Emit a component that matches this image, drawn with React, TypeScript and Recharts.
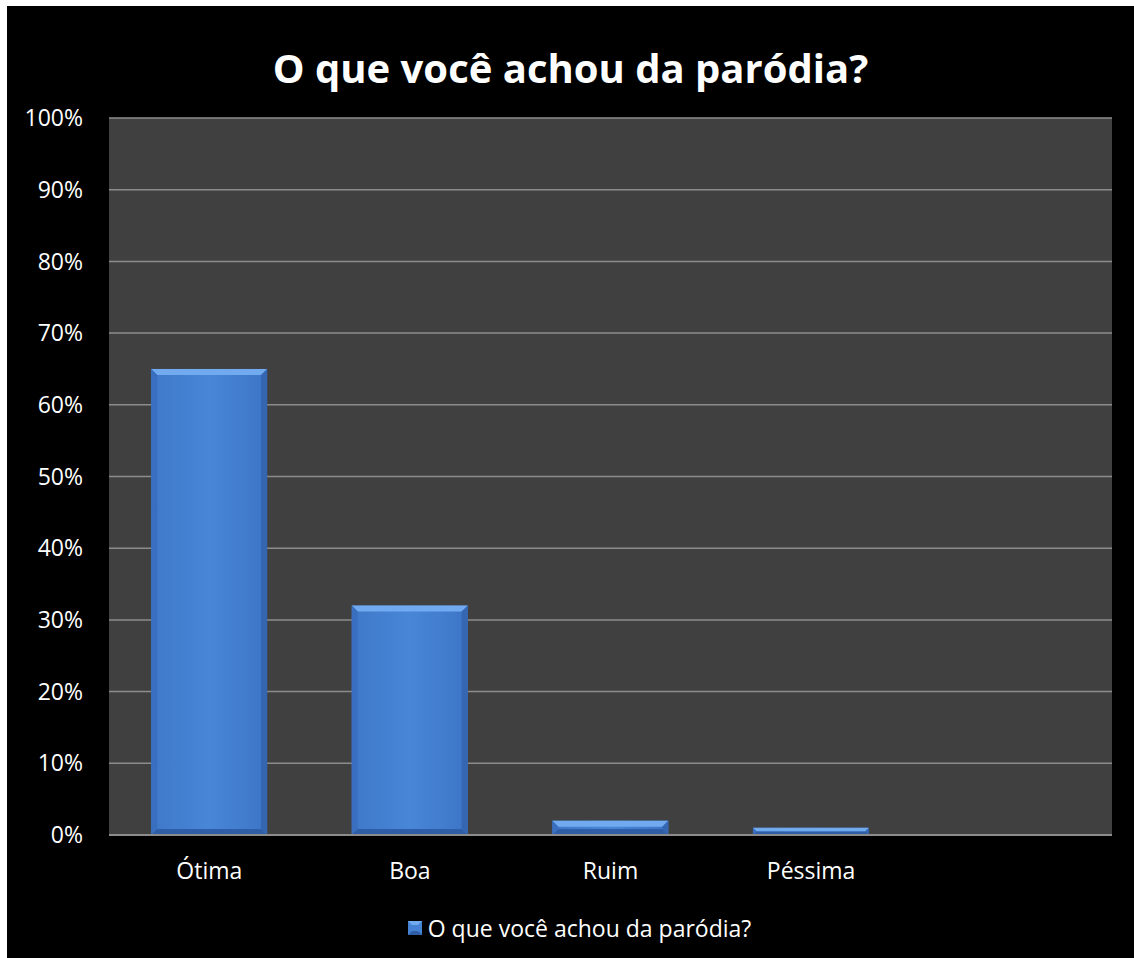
import { BarChart, Bar, XAxis, YAxis, CartesianGrid, Legend } from "recharts";

// survey answers (share of respondents)
const CATEGORIES = ["Ótima", "Boa", "Ruim", "Péssima", ""];
const VALUES: (number | null)[] = [0.65, 0.32, 0.02, 0.01, null];
const Y_TICKS = [0, 0.1, 0.2, 0.3, 0.4, 0.5, 0.6, 0.7, 0.8, 0.9, 1];
const SERIES_NAME = "O que você achou da paródia?";

const data = CATEGORIES.map((c, i) => ({ name: c, value: VALUES[i] }));

const FONT = "'Open Sans', sans-serif";

function BevelBar(props: any) {
  const { x, y, width, height } = props;
  if (!height || height <= 0) return null;
  const b = Math.min(6, height / 2, width / 2);
  const r = x + width;
  const btm = y + height;
  return (
    <g>
      <rect x={x} y={y} width={width} height={height} fill="url(#faceGrad)" />
      <polygon points={`${x},${y} ${r},${y} ${r - b},${y + b} ${x + b},${y + b}`} fill="#72aaf0" />
      <polygon points={`${x},${y} ${x + b},${y + b} ${x + b},${btm - b} ${x},${btm}`} fill="#3a6fc0" />
      <polygon points={`${r},${y} ${r},${btm} ${r - b},${btm - b} ${r - b},${y + b}`} fill="#3466b2" />
      <polygon points={`${x},${btm} ${x + b},${btm - b} ${r - b},${btm - b} ${r},${btm}`} fill="#2f5ea6" />
    </g>
  );
}

function LegendContent() {
  return (
    <div
      style={{
        display: "flex",
        justifyContent: "center",
        alignItems: "center",
        fontFamily: FONT,
        fontSize: 23,
        color: "#ffffff",
        paddingTop: 8,
        paddingLeft: 40,
      }}
    >
      <svg width={14} height={14} style={{ marginRight: 6 }}>
        <rect x={0} y={0} width={14} height={14} fill="#4682d4" />
        <polygon points="0,0 14,0 10,4 4,4" fill="#72aaf0" />
        <polygon points="0,14 4,10 10,10 14,14" fill="#2f5ea6" />
      </svg>
      <span>{SERIES_NAME}</span>
    </div>
  );
}

export default function App() {
  return (
    <div
      style={{
        position: "absolute",
        left: 7,
        top: 6,
        width: 1127,
        height: 952,
        background: "#000000",
      }}
    >
      <div
        style={{
          position: "absolute",
          top: 35,
          width: "100%",
          textAlign: "center",
          color: "#ffffff",
          fontFamily: FONT,
          fontWeight: 700,
          fontSize: 40,
          lineHeight: "54px",
        }}
      >
        O que você achou da paródia?
      </div>
      <BarChart
        width={1127}
        height={952}
        data={data}
        margin={{ top: 112, right: 22, left: 0, bottom: 10 }}
        barCategoryGap="21%"
      >
        <defs>
          <linearGradient id="faceGrad" x1="0" y1="0" x2="1" y2="0">
            <stop offset="0%" stopColor="#3f78c8" />
            <stop offset="50%" stopColor="#4886d8" />
            <stop offset="100%" stopColor="#3d75c6" />
          </linearGradient>
        </defs>
        <CartesianGrid vertical={false} stroke="#8c8c8c" strokeWidth={1.5} fill="#404040" />
        <XAxis
          dataKey="name"
          height={69}
          axisLine={{ stroke: "#8c8c8c", strokeWidth: 2 }}
          tickLine={false}
          tick={{ fill: "#ffffff", fontSize: 23, fontFamily: FONT }}
          dy={20}
        />
        <YAxis
          width={102}
          domain={[0, 1]}
          ticks={Y_TICKS}
          interval={0}
          axisLine={false}
          tickLine={false}
          tickFormatter={(v) => `${Math.round(v * 100)}%`}
          tick={{ fill: "#ffffff", fontSize: 23, fontFamily: FONT }}
          dx={-18}
        />
        <Legend verticalAlign="bottom" height={44} content={<LegendContent />} />
        <Bar dataKey="value" name={SERIES_NAME} shape={<BevelBar />} isAnimationActive={false} />
      </BarChart>
    </div>
  );
}
